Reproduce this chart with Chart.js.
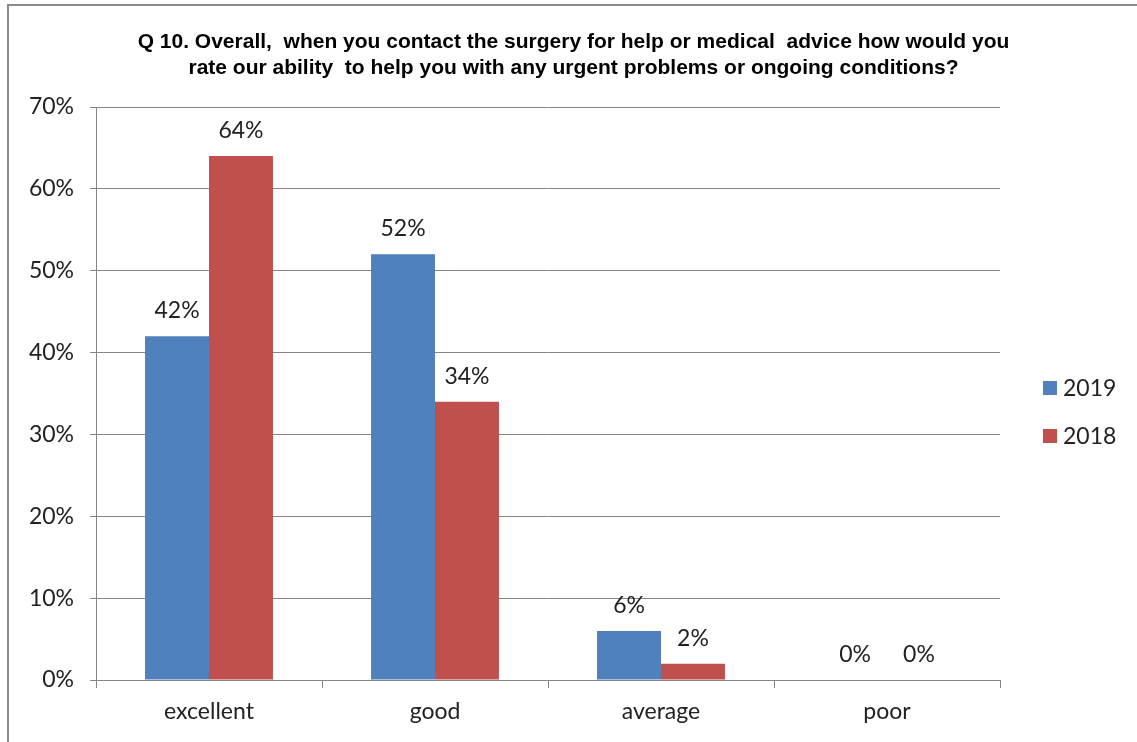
<!DOCTYPE html>
<html>
<head>
<meta charset="utf-8">
<script src="https://cdn.jsdelivr.net/npm/chart.js@4"></script>
<style>
    html, body { margin: 0; padding: 0; background: #fff; }
    #frame {
        position: absolute; left: 7px; top: 4px;
        width: 1140px; height: 750px;
        border: 2px solid #8a8a8a;
        box-sizing: border-box;
    }
    #wrap { position: absolute; left: 0; top: 0; width: 1137px; height: 742px; }
</style>
</head>
<body>
<div id="frame"></div>
<div id="wrap"><canvas id="chart" width="1137" height="742"></canvas></div>
<script>
// Q10 survey results
const categories = ['excellent', 'good', 'average', 'poor'];
const values2019 = [42, 52, 6, 0];
const values2018 = [64, 34, 2, 0];
const yTicks = [0, 10, 20, 30, 40, 50, 60, 70];

const colors = {
    y2019: '#4F81BD',
    y2018: '#C0504D',
    grid: '#868686',
    text: '#222'
};

const fontFamily = 'Lato, "Open Sans", sans-serif';
const labelFont = '23px ' + fontFamily;

// value labels over each bar
const valueLabels = {
    id: 'valueLabels',
    afterDatasetsDraw(chart) {
        const ctx = chart.ctx;
        ctx.save();
        ctx.font = labelFont;
        ctx.fillStyle = colors.text;
        ctx.textAlign = 'center';
        ctx.textBaseline = 'alphabetic';
        chart.data.datasets.forEach((ds, i) => {
            chart.getDatasetMeta(i).data.forEach((bar, j) => {
                ctx.fillText(ds.data[j] + '%', bar.x, bar.y - 18);
            });
        });
        ctx.restore();
    }
};

// legend on the right side
const sideLegend = {
    id: 'sideLegend',
    afterDraw(chart) {
        const ctx = chart.ctx;
        const x = chart.chartArea.right + 43;
        ctx.save();
        ctx.font = labelFont;
        ctx.textBaseline = 'middle';
        chart.data.datasets.forEach((ds, i) => {
            const y = 388 + i * 48;
            ctx.fillStyle = ds.backgroundColor;
            ctx.fillRect(x, y - 7, 14, 14);
            ctx.fillStyle = colors.text;
            ctx.fillText(ds.label, x + 20, y + 1);
        });
        ctx.restore();
    }
};

new Chart(document.getElementById('chart'), {
    type: 'bar',
    data: {
        labels: categories,
        datasets: [
            { label: '2019', data: values2019, backgroundColor: colors.y2019 },
            { label: '2018', data: values2018, backgroundColor: colors.y2018 }
        ]
    },
    options: {
        responsive: false,
        animation: false,
        layout: { padding: { top: 5, left: 10, right: 0, bottom: 0 } },
        datasets: { bar: { categoryPercentage: 0.566, barPercentage: 1 } },
        plugins: {
            legend: { display: false },
            tooltip: { enabled: false },
            title: {
                display: true,
                text: [
                    'Q 10. Overall,  when you contact the surgery for help or medical  advice how would you',
                    'rate our ability  to help you with any urgent problems or ongoing conditions?'
                ],
                color: '#000',
                font: { family: '"Liberation Sans", Arial, sans-serif', size: 21, weight: 'bold', lineHeight: 26 / 21 },
                padding: { top: 24, bottom: 26 }
            }
        },
        scales: {
            x: {
                afterFit: s => { s.height = 62; },
                grid: { offset: true, drawOnChartArea: false, color: colors.grid, tickLength: 8 },
                border: { color: colors.grid },
                ticks: { color: colors.text, font: { family: fontFamily, size: 23 }, padding: 10 }
            },
            y: {
                min: 0,
                max: 70,
                afterFit: s => { s.width = 86; },
                afterBuildTicks: s => { s.ticks = yTicks.map(v => ({ value: v })); },
                grid: { color: colors.grid, tickLength: 6 },
                border: { color: colors.grid },
                ticks: {
                    color: colors.text,
                    font: { family: fontFamily, size: 23 },
                    padding: 16,
                    callback: v => v + '%'
                }
            },
            y2: {
                position: 'right',
                min: 0,
                max: 70,
                afterFit: s => { s.width = 137; },
                grid: { display: false },
                border: { display: false },
                ticks: { display: false }
            }
        }
    },
    plugins: [valueLabels, sideLegend]
});
</script>
</body>
</html>
